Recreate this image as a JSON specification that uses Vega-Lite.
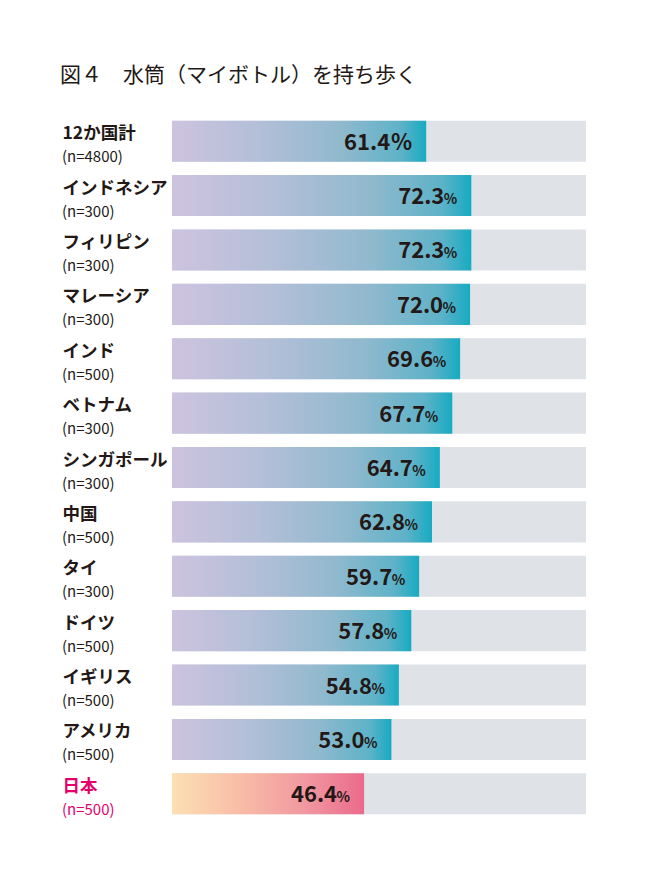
{
  "$schema": "https://vega.github.io/schema/vega-lite/v6.json",
  "width": 414,
  "height": 707,
  "autosize": {"type": "none"},
  "padding": {"left": 172, "top": 114, "right": 65, "bottom": 66},
  "background": "#ffffff",
  "config": {"view": {"stroke": null}, "font": "Noto Sans CJK JP"},
  "title": {
    "text": "図４　水筒（マイボトル）を持ち歩く",
    "anchor": "start",
    "frame": "group",
    "fontSize": 21,
    "fontWeight": "normal",
    "font": "Noto Sans CJK JP",
    "color": "#231815",
    "baseline": "alphabetic",
    "offset": 11,
    "dx": -112
  },
  "data": {
    "values": [
      {"country": "12か国計", "n": "(n=4800)", "value": 61.4},
      {"country": "インドネシア", "n": "(n=300)", "value": 72.3},
      {"country": "フィリピン", "n": "(n=300)", "value": 72.3},
      {"country": "マレーシア", "n": "(n=300)", "value": 72.0},
      {"country": "インド", "n": "(n=500)", "value": 69.6},
      {"country": "ベトナム", "n": "(n=300)", "value": 67.7},
      {"country": "シンガポール", "n": "(n=300)", "value": 64.7},
      {"country": "中国", "n": "(n=500)", "value": 62.8},
      {"country": "タイ", "n": "(n=300)", "value": 59.7},
      {"country": "ドイツ", "n": "(n=500)", "value": 57.8},
      {"country": "イギリス", "n": "(n=500)", "value": 54.8},
      {"country": "アメリカ", "n": "(n=500)", "value": 53.0},
      {"country": "日本", "n": "(n=500)", "value": 46.4}
    ]
  },
  "layer": [
    {
      "mark": {"type": "bar", "fill": "#dfe3e7"},
      "encoding": {
        "y": {
          "field": "country",
          "type": "nominal",
          "sort": null,
          "scale": {"paddingInner": 0.245, "paddingOuter": 0.1225},
          "axis": {
            "title": null,
            "domain": false,
            "ticks": false,
            "grid": false,
            "labelAlign": "left",
            "labelBaseline": "middle",
            "labelPadding": 110,
            "labelOffset": -7,
            "labelFontSize": 17.5,
            "labelFontWeight": "bold",
            "labelFont": "Noto Sans CJK JP",
            "labelOverlap": false,
            "labelBound": false,
            "labelLimit": 0,
            "labelColor": {
              "condition": {"test": "datum.value === '日本'", "value": "#e4006b"},
              "value": "#231815"
            }
          }
        },
        "x": {
          "datum": 100,
          "type": "quantitative",
          "scale": {"domain": [0, 100], "nice": false, "zero": true},
          "axis": null
        }
      }
    },
    {
      "transform": [{"filter": "datum.country !== '日本'"}],
      "mark": {
        "type": "bar",
        "fill": {
          "gradient": "linear",
          "x1": 0, "x2": 1, "y1": 0, "y2": 0,
          "stops": [
            {"offset": 0, "color": "#cdc3df"},
            {"offset": 0.33, "color": "#b4bfd8"},
            {"offset": 0.66, "color": "#91b9ce"},
            {"offset": 0.9, "color": "#5eb2c8"},
            {"offset": 1, "color": "#17abc2"}
          ]
        }
      },
      "encoding": {
        "y": {"field": "country", "type": "nominal", "sort": null},
        "x": {"field": "value", "type": "quantitative"}
      }
    },
    {
      "transform": [{"filter": "datum.country === '日本'"}],
      "mark": {
        "type": "bar",
        "fill": {
          "gradient": "linear",
          "x1": 0, "x2": 1, "y1": 0, "y2": 0,
          "stops": [
            {"offset": 0, "color": "#fde0b3"},
            {"offset": 0.35, "color": "#f8bda7"},
            {"offset": 0.7, "color": "#f197a0"},
            {"offset": 1, "color": "#ea6a8b"}
          ]
        }
      },
      "encoding": {
        "y": {"field": "country", "type": "nominal", "sort": null},
        "x": {"field": "value", "type": "quantitative"}
      }
    },
    {
      "transform": [{"filter": "datum.country !== '12か国計'"}],
      "mark": {
        "type": "text",
        "align": "right",
        "baseline": "alphabetic",
        "dx": -27,
        "dy": 8.5,
        "fontSize": 22,
        "fontWeight": "bold",
        "font": "Noto Sans CJK JP",
        "color": "#231815"
      },
      "encoding": {
        "y": {"field": "country", "type": "nominal", "sort": null},
        "x": {"field": "value", "type": "quantitative"},
        "text": {"field": "value", "type": "quantitative", "format": ".1f"}
      }
    },
    {
      "transform": [{"filter": "datum.country !== '12か国計'"}],
      "mark": {
        "type": "text",
        "align": "right",
        "baseline": "alphabetic",
        "dx": -14,
        "dy": 8.5,
        "fontSize": 14,
        "fontWeight": "bold",
        "font": "Noto Sans CJK JP",
        "color": "#231815",
        "text": "%"
      },
      "encoding": {
        "y": {"field": "country", "type": "nominal", "sort": null},
        "x": {"field": "value", "type": "quantitative"}
      }
    },
    {
      "transform": [{"filter": "datum.country === '12か国計'"}],
      "mark": {
        "type": "text",
        "align": "right",
        "baseline": "alphabetic",
        "dx": -36,
        "dy": 8.5,
        "fontSize": 22,
        "fontWeight": "bold",
        "font": "Noto Sans CJK JP",
        "color": "#231815"
      },
      "encoding": {
        "y": {"field": "country", "type": "nominal", "sort": null},
        "x": {"field": "value", "type": "quantitative"},
        "text": {"field": "value", "type": "quantitative", "format": ".1f"}
      }
    },
    {
      "transform": [{"filter": "datum.country === '12か国計'"}],
      "mark": {
        "type": "text",
        "align": "right",
        "baseline": "alphabetic",
        "dx": -14,
        "dy": 8.5,
        "fontSize": 22,
        "fontWeight": "bold",
        "font": "Noto Sans CJK JP",
        "color": "#231815",
        "text": "%"
      },
      "encoding": {
        "y": {"field": "country", "type": "nominal", "sort": null},
        "x": {"field": "value", "type": "quantitative"}
      }
    },
    {
      "mark": {
        "type": "text",
        "align": "left",
        "baseline": "middle",
        "dx": -110,
        "dy": 16,
        "fontSize": 15,
        "font": "Noto Sans CJK JP"
      },
      "encoding": {
        "y": {"field": "country", "type": "nominal", "sort": null},
        "x": {"datum": 0, "type": "quantitative"},
        "text": {"field": "n", "type": "nominal"},
        "color": {
          "condition": {"test": "datum.country === '日本'", "value": "#e4006b"},
          "value": "#231815"
        }
      }
    }
  ]
}
